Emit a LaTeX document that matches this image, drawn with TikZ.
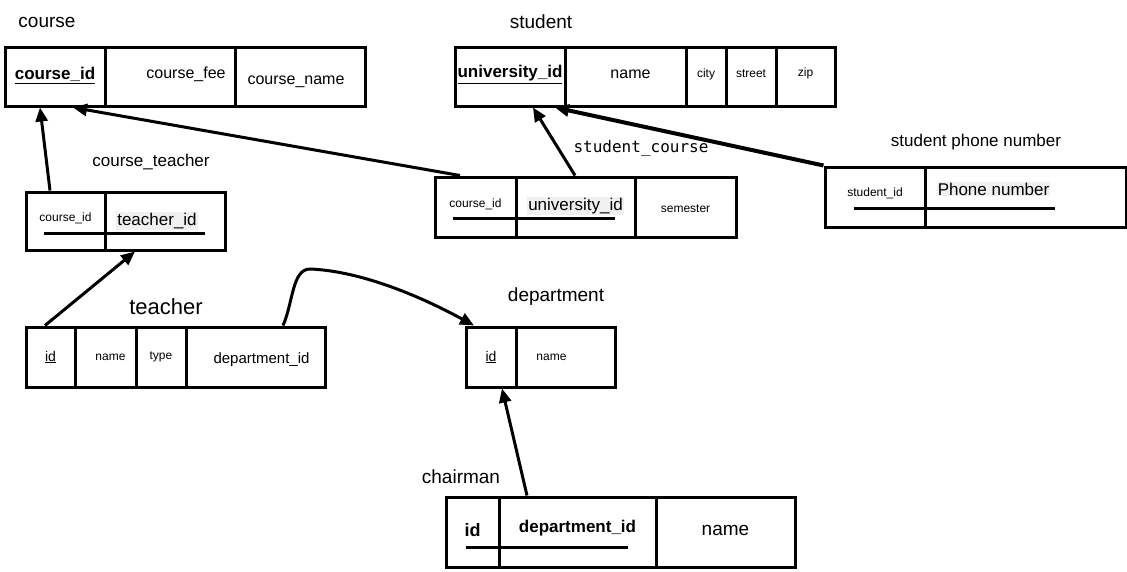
\documentclass[tikz,border=0pt]{standalone}
\usepackage{fontspec}
\setmainfont{Liberation Sans}
\setmonofont{DejaVu Sans Mono}
\usetikzlibrary{arrows.meta}
\definecolor{hl}{rgb}{0.94,0.94,0.94}
\newcommand{\fsz}[1]{\fontsize{#1}{#1}\selectfont}
\newcommand{\nudge}[2]{\hbox to 0pt{\hss\kern#1\kern#1\relax #2\hss}}
\newcommand{\vshift}[2]{\raisebox{#1}[\height][\depth]{#2}}
\newcommand{\hlbox}[1]{{\fboxsep=1pt\colorbox{hl}{#1}}}

\begin{document}
\begin{tikzpicture}[x=1pt,y=-1pt,
  cell/.style={draw,line width=3pt,inner sep=0pt,minimum height=59pt},
  title/.style={font=\fsz{19}},
  fk/.style={line width=3pt,-{Triangle[length=14pt,width=12pt]}},
  keyline/.style={line width=3pt}]

\useasboundingbox (0,0) rectangle (1127,571);

% course
\node[title] (courseT) at (47,22) {course};
\node[cell,minimum width=100,font=\fsz{17}\bfseries] (cid) at (55,76.5) {\vshift{1pt}{\underline{course\_id}}};
\node[cell,minimum width=130,font=\fsz{16}] (cfee) at (170,76.5) {\vshift{2pt}{\nudge{16pt}{course\_fee}}};
\node[cell,minimum width=130,font=\fsz{16}] (cname) at (300,76.5) {\vshift{-5pt}{\nudge{-4pt}{course\_name}}};

% student
\node[title] (studentT) at (541,22) {student};
\node[cell,minimum width=110,font=\fsz{17}\bfseries] (suid) at (510,76.5) {\vshift{2pt}{\underline{university\_id}}};
\node[cell,minimum width=121,font=\fsz{16}] (sname) at (625.5,76.5) {\vshift{2pt}{\nudge{5pt}{name}}};
\node[cell,minimum width=40,font=\fsz{12}] (scity) at (706,76.5) {\vshift{2.5pt}{city}};
\node[cell,minimum width=50,font=\fsz{12}] (sstreet) at (751,76.5) {\vshift{3pt}{street}};
\node[cell,minimum width=59,font=\fsz{12}] (szip) at (805.5,76.5) {\vshift{3pt}{zip}};

% course_teacher
\node[title,font=\fsz{17}] (ctT) at (151,162) {course\_teacher};
\node[cell,minimum width=79,minimum height=58,font=\fsz{12}] (ctcid) at (65.5,221) {\vshift{3pt}{course\_id}};
\node[cell,minimum width=120,minimum height=58,font=\fsz{17}] (cttid) at (165,221) {\nudge{-8pt}{\hlbox{teacher\_id}}};
\draw[keyline] (44,233) -- (205,233);

% student_course
\node[font=\ttfamily\fsz{16}] (scT) at (641,148) {student\_course};
\node[cell,minimum width=81,minimum height=60,font=\fsz{12}] (sccid) at (475.5,207) {\vshift{3pt}{course\_id}};
\node[cell,minimum width=119,minimum height=60,font=\fsz{17}] (scuid) at (575.5,207) {\vshift{1pt}{\hlbox{university\_id}}};
\node[cell,minimum width=101,minimum height=60,font=\fsz{12}] (scsem) at (685.5,207) {\vshift{-2pt}{semester}};
\draw[keyline] (453,218) -- (615,218);

% student phone number
\node[title,font=\fsz{17}] (spT) at (976,142) {student phone number};
\node[cell,minimum width=100,minimum height=60,font=\fsz{12}] (psid) at (875,197) {\vshift{4pt}{student\_id}};
\node[cell,minimum width=201,minimum height=60,font=\fsz{17}] (pnum) at (1025.5,197) {\raisebox{2pt}[0pt][0pt]{\nudge{-32pt}{\hlbox{Phone number}}}};
\draw[keyline] (854,208) -- (1055,208);

% teacher
\node[title,font=\fsz{22}] (teacherT) at (166,307) {teacher};
\node[cell,minimum width=49,minimum height=60,font=\fsz{14}] (tid) at (50.5,357) {\underline{id}};
\node[cell,minimum width=61,minimum height=60,font=\fsz{12}] (tname) at (105.5,357) {\nudge{5pt}{name}};
\node[cell,minimum width=50,minimum height=60,font=\fsz{12}] (ttype) at (161,357) {type};
\node[cell,minimum width=139,minimum height=60,font=\fsz{15}] (tdept) at (255.5,357) {\vshift{-3pt}{\nudge{6pt}{department\_id}}};

% department
\node[title] (deptT) at (556,297) {department};
\node[cell,minimum width=50,minimum height=60,font=\fsz{14}] (did) at (491,357) {\underline{id}};
\node[cell,minimum width=99,minimum height=60,font=\fsz{12}] (dname) at (565.5,357) {\nudge{-14pt}{name}};

% chairman
\node[title] (chT) at (461,477) {chairman};
\node[cell,minimum width=53,minimum height=70,font=\fsz{18}\bfseries] (chid) at (472.5,532) {\vshift{2pt}{id}};
\node[cell,minimum width=157,minimum height=70,font=\fsz{17}\bfseries] (chdept) at (577.5,532) {\vshift{4pt}{department\_id}};
\node[cell,minimum width=139,minimum height=70,font=\fsz{19}] (chname) at (725.5,532) {\vshift{2pt}{name}};
\draw[keyline] (466,547) -- (628,547);

% references
\draw[fk] ([xshift=-15.5]ctcid.north) -- ([xshift=-15]cid.south);
\draw[fk] ([xshift=-15.5]sccid.north) -- ([xshift=18]cid.south);
\draw[fk] ([xshift=-0.5]scuid.north) -- ([xshift=23]suid.south);
\draw[fk,line width=4pt] (psid.north west) -- ([xshift=45]suid.south);
\draw[fk] ([xshift=-5.5]tid.north) -- ([xshift=-30]cttid.south);
\draw[fk] ([xshift=27.5]tdept.north) .. controls +(10,-22) and +(-18,0) .. (310,269)
  .. controls +(50,2) and +(-55,-30) .. ([xshift=-17]did.north);
\draw[fk] ([xshift=-50.5]chdept.north) -- ([xshift=11]did.south);

\end{tikzpicture}
\end{document}
